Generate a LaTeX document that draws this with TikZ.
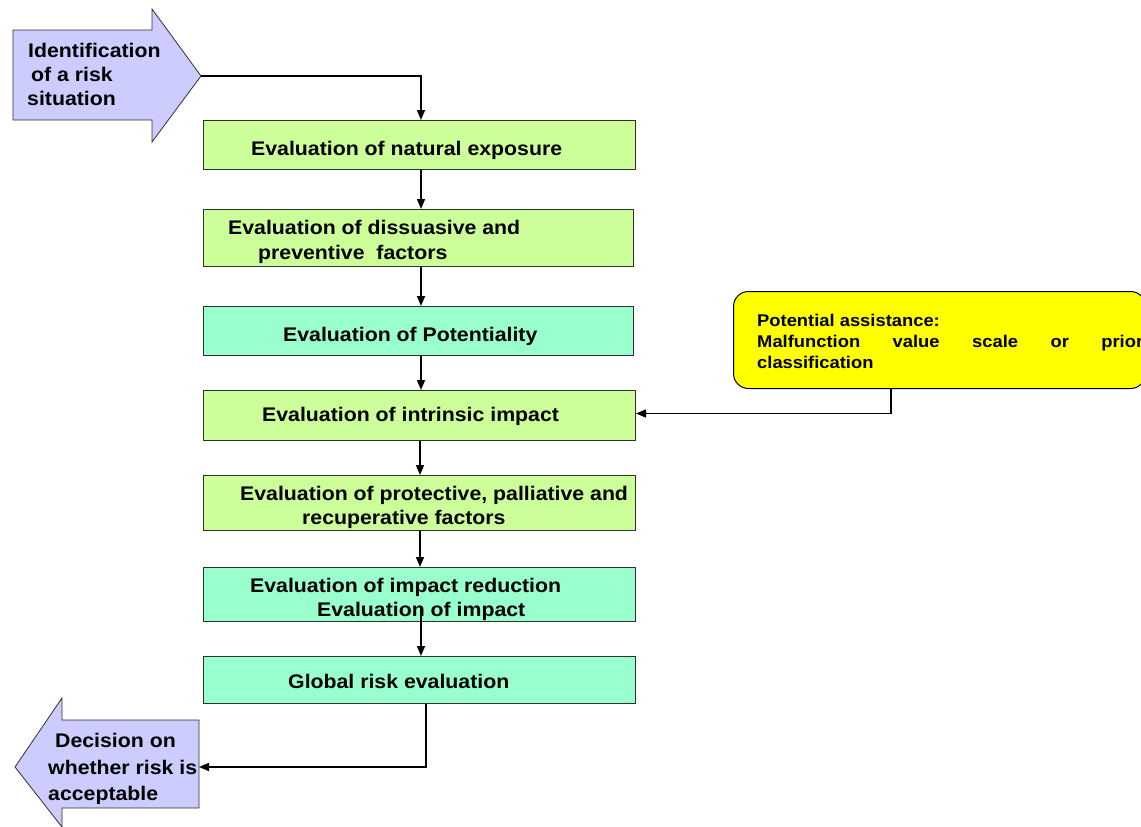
\documentclass[tikz,border=0pt]{standalone}
\usepackage{fontspec}
\setmainfont{Liberation Sans}[FakeStretch=1.08]
\usetikzlibrary{arrows.meta}
\definecolor{paleGreen}{HTML}{CCFF99}
\definecolor{mint}{HTML}{99FFCC}
\definecolor{lavender}{HTML}{CCCCFF}
\definecolor{note}{HTML}{FFFF00}
\definecolor{edge}{HTML}{303030}
\begin{document}
\begin{tikzpicture}[x=1pt,y=-1pt,
  box/.style={draw=edge,line width=1pt,anchor=north west,inner sep=0pt,minimum width=432pt},
  greenbox/.style={box,fill=paleGreen},
  mintbox/.style={box,fill=mint},
  lbl/.style={anchor=base west,inner sep=0pt,font=\fontsize{19.7}{24}\selectfont\bfseries},
  notelbl/.style={anchor=base west,inner sep=0pt,font=\fontsize{17}{21}\selectfont\bfseries},
  arr/.style={draw=black,line width=1.5pt,-{Triangle[length=10pt,width=8pt]}},
  bigarrow/.style={fill=lavender,draw=edge,line width=0.8pt}]
\useasboundingbox (0,0) rectangle (1141,827);

% entry and exit block arrows
\draw[bigarrow] (13,30) -- (152,30) -- (152,9) -- (201,76) -- (152,142) -- (152,120) -- (13,120) -- cycle;
\coordinate (inTip) at (201,76);
\node[lbl] (id1) at (28,57) {Identification};
\node[lbl] (id2) at (31,81) {of a risk};
\node[lbl] (id3) at (27,105) {situation};

\draw[bigarrow] (199,720) -- (62,720) -- (62,698) -- (15,767) -- (62,827) -- (62,808) -- (199,808) -- cycle;
\coordinate (outEnd) at (199,767);
\node[lbl] (dc1) at (55,747) {Decision on};
\node[lbl] (dc2) at (48,774) {whether risk is};
\node[lbl] (dc3) at (48,800) {acceptable};

% evaluation steps
\node[greenbox,minimum height=49pt] (n1) at (203,120) {};
\node[greenbox,minimum width=430pt,minimum height=57pt] (n2) at (203,209) {};
\node[mintbox,minimum width=430pt,minimum height=49pt] (n3) at (203,306) {};
\node[greenbox,minimum height=50pt] (n4) at (203,390) {};
\node[greenbox,minimum height=55pt] (n5) at (203,475) {};
\node[mintbox,minimum height=54pt] (n6) at (203,567) {};
\node[mintbox,minimum height=47pt] (n7) at (203,656) {};

\node[lbl] (t1) at (251,155) {Evaluation of natural exposure};
\node[lbl] (t2a) at (228,234) {Evaluation of dissuasive and};
\node[lbl] (t2b) at (258,259) {preventive\ \ factors};
\node[lbl] (t3) at (283,341) {Evaluation of Potentiality};
\node[lbl] (t4) at (262,421) {Evaluation of intrinsic impact};
\node[lbl] (t5a) at (240,500) {Evaluation of protective, palliative and};
\node[lbl] (t5b) at (302,524) {recuperative factors};
\node[lbl] (t6a) at (250,592) {Evaluation of impact reduction};
\node[lbl] (t6b) at (317,616) {Evaluation of impact};
\node[lbl] (t7) at (288,688) {Global risk evaluation};

% assistance note
\node[draw=black,line width=1pt,fill=note,rounded corners=15pt,anchor=north west,
      inner sep=0pt,minimum width=412pt,minimum height=97pt] (help) at (733,291) {};
\node[notelbl] (h1) at (757,326) {Potential assistance:};
\node[notelbl] (h2) at (757,347) {\hbox to 386pt{Malfunction\hfill value\hfill scale\hfill or\hfill prior}};
\node[notelbl] (h3) at (757,368) {classification};

% connectors
\coordinate (cx) at (421,0);
\coordinate (cxb) at (420,0);
\coordinate (cxd) at (426,0);
\coordinate (hx) at (891,0);
\draw[arr] (inTip) -| (n1.north -| cx);
\draw[arr] (n1.south -| cx) -- (n2.north -| cx);
\draw[arr] (n2.south -| cx) -- (n3.north -| cx);
\draw[arr] (n3.south -| cx) -- (n4.north -| cx);
\draw[arr] (n4.south -| cxb) -- (n5.north -| cxb);
\draw[arr] (n5.south -| cxb) -- (n6.north -| cxb);
\draw[arr] ([yshift=16pt]n6.south -| cx) -- (n7.north -| cx);
\draw[arr] (n7.south -| cxd) |- (outEnd);
\draw[arr] (help.south -| hx) |- ([yshift=2pt]n4.east);
\end{tikzpicture}
\end{document}
